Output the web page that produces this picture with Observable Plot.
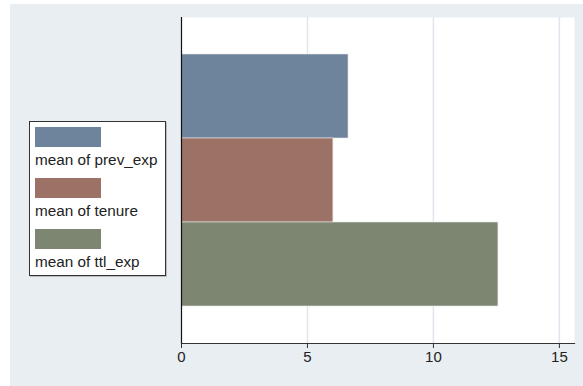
<!DOCTYPE html>
<html><head><meta charset="utf-8">
<script src="https://cdn.jsdelivr.net/npm/d3@7"></script>
<script src="https://cdn.jsdelivr.net/npm/@observablehq/plot@0.6"></script>
<style>
body{margin:0;background:#fff;}
#wrap{position:relative;width:583px;height:386px;overflow:hidden;font-family:"Liberation Sans",Arial,sans-serif;}
#bg{position:absolute;left:10px;top:4px;width:573px;height:382px;background:#e8eef2;}
#chart{position:absolute;left:0;top:0;}
#legend{position:absolute;left:29px;top:121px;width:135px;height:153px;background:#fff;border:1px solid #333;box-shadow:1px 1px 0 #bbb;}
.item{position:absolute;left:5px;}
.sw{width:66px;height:20px;}
.lab{font-size:15.3px;color:#222;white-space:nowrap;line-height:16px;margin-top:5px;}
</style></head>
<body>
<div id="wrap"><div id="bg"></div><div id="chart"></div><div id="legend"></div></div>
<script>
const series = ["mean of prev_exp","mean of tenure","mean of ttl_exp"];
const values = [6.63, 6.03, 12.58];
const colors = ["#6e849c","#9c7266","#7c8670"];
const xTicks = [0,5,10,15];

const data = series.map((s,i)=>({series:s, value:values[i], color:colors[i]}));

const plot = Plot.plot({
  width:583, height:386,
  marginLeft:181, marginRight:9, marginTop:17, marginBottom:43,
  style:{background:"transparent", fontFamily:"'Liberation Sans',Arial,sans-serif", fontSize:"15px", color:"#222"},
  x:{domain:[0,15.6], ticks:xTicks, label:null},
  y:{domain:series, paddingInner:0, paddingOuter:0.42, axis:null},
  marks:[
    Plot.frame({fill:"#fff", stroke:null}),
    Plot.gridX(xTicks.filter(d=>d>0), {stroke:"#dfe5ec", strokeOpacity:1, strokeWidth:1.5}),
    Plot.barX(data, {y:"series", x:"value", fill:"color", stroke:"#e8e8e8", strokeWidth:0.6}),
    Plot.axisX(xTicks, {tickSize:5, tickPadding:3, stroke:"#333", fontSize:15, fill:"#222", label:null}),
    Plot.frame({anchor:"bottom", stroke:"#333", strokeWidth:1.2}),
    Plot.ruleX([0], {stroke:"#111", strokeWidth:1.2})
  ]
});
document.getElementById("chart").appendChild(plot);

const lg = document.getElementById("legend");
series.forEach((s,i)=>{
  const d = document.createElement("div");
  d.className="item";
  d.style.top = (5 + i*51) + "px";
  d.innerHTML = `<div class="sw" style="background:${colors[i]}"></div><div class="lab">${s}</div>`;
  lg.appendChild(d);
});
</script>
</body></html>
